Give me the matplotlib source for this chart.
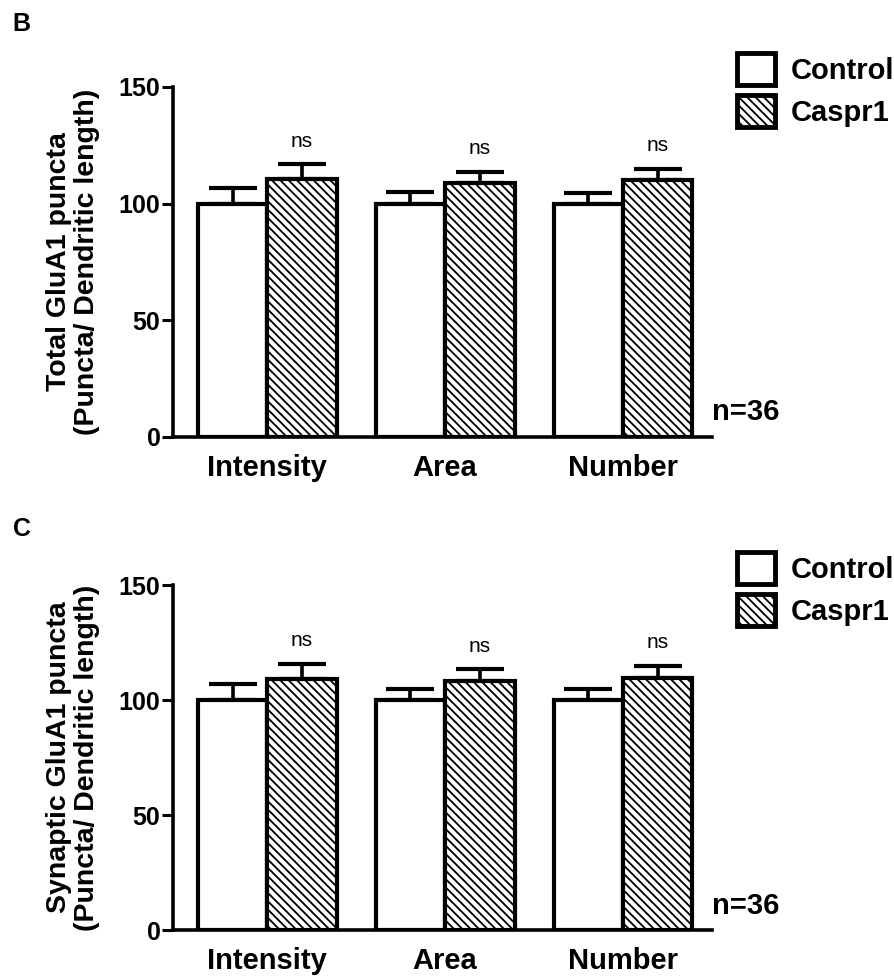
import numpy as np
import matplotlib
matplotlib.use('Agg')
import matplotlib.pyplot as plt
from matplotlib.patches import Patch

plt.rcParams['font.family'] = ['Liberation Sans', 'DejaVu Sans']
plt.rcParams['hatch.linewidth'] = 1.3

# data (normalised to control = 100)
categories = ['Intensity', 'Area', 'Number']
groups = ['Control', 'Caspr1']

total_control = [100, 100, 100]
total_control_sem = [6.6, 4.8, 4.6]
total_caspr1 = [110.5, 109.0, 110.3]
total_caspr1_sem = [6.3, 4.7, 4.6]

syn_control = [100, 100, 100]
syn_control_sem = [7.1, 4.6, 4.6]
syn_caspr1 = [109.1, 108.4, 109.4]
syn_caspr1_sem = [6.7, 5.0, 5.5]

sig_labels = ['ns', 'ns', 'ns']
n_label = 'n=36'

yticks = [0, 50, 100, 150]


def draw_panel(ax, ctrl, ctrl_err, casp, casp_err, ylabel):
    x = np.arange(len(categories))
    w = 0.39
    ax.bar(x - w / 2, ctrl, w, color='white', edgecolor='black', linewidth=3, zorder=2)
    ax.bar(x + w / 2, casp, w, color='white', edgecolor='black', linewidth=3,
           hatch='\\\\\\\\', zorder=2)
    # one-sided (upper) error bars
    ax.errorbar(x - w / 2, ctrl, yerr=[np.zeros(len(x)), ctrl_err], fmt='none',
                ecolor='black', elinewidth=2.6, capsize=17, capthick=3, zorder=1)
    ax.errorbar(x + w / 2, casp, yerr=[np.zeros(len(x)), casp_err], fmt='none',
                ecolor='black', elinewidth=2.6, capsize=17, capthick=3, zorder=1)
    for xi, m, e, s in zip(x, casp, casp_err, sig_labels):
        ax.text(xi + w / 2, m + e + 10, s, ha='center', va='center', fontsize=15)

    ax.set_xlim(-0.53, 2.5)
    ax.set_ylim(0, 150)
    ax.set_yticks(yticks)
    ax.set_xticks(x)
    ax.set_xticklabels(categories, fontsize=21, fontweight='bold')
    ax.tick_params(axis='x', length=0, pad=12)
    ax.tick_params(axis='y', length=8, width=2.2, labelsize=18, pad=1)
    for lbl in ax.get_yticklabels():
        lbl.set_fontweight('bold')
    for side in ['top', 'right']:
        ax.spines[side].set_visible(False)
    for side in ['left', 'bottom']:
        ax.spines[side].set_linewidth(2.6)
    ax.set_ylabel(ylabel, fontsize=20.5, fontweight='bold', linespacing=1.1)
    ax.yaxis.set_label_coords(-0.135, 0.5)
    ax.text(1.0, 0.07, n_label, transform=ax.transAxes, ha='left', va='center',
            fontsize=21, fontweight='bold')


fig = plt.figure(figsize=(8.95, 9.76), dpi=100)
ax1 = fig.add_axes([0.1933, 0.5523, 0.6022, 0.3586])
ax2 = fig.add_axes([0.1933, 0.0471, 0.6022, 0.3535])

draw_panel(ax1, total_control, total_control_sem, total_caspr1, total_caspr1_sem,
           'Total GluA1 puncta\n(Puncta/ Dendritic length)')
draw_panel(ax2, syn_control, syn_control_sem, syn_caspr1, syn_caspr1_sem,
           'Synaptic GluA1 puncta\n(Puncta/ Dendritic length)')

handles = [Patch(facecolor='white', edgecolor='black', linewidth=3.5, label=groups[0]),
           Patch(facecolor='white', edgecolor='black', linewidth=3.5, hatch='\\\\\\\\',
                 label=groups[1])]
for ax, ytop in [(ax1, 1 - 53 / 976), (ax2, 1 - 552 / 976)]:
    fig.legend(handles=handles, loc='upper left', bbox_to_anchor=(737 / 895, ytop),
               frameon=False, handlelength=1.3, handleheight=1.3,
               handletextpad=0.55, labelspacing=0.35, borderaxespad=0,
               borderpad=0, prop={'weight': 'bold', 'size': 21})

fig.text(12 / 895, 1 - 24 / 976, 'B', fontsize=18, fontweight='bold', va='center')
fig.text(13 / 895, 1 - 529 / 976, 'C', fontsize=18, fontweight='bold', va='center')

fig.savefig('out.png', dpi=100)
